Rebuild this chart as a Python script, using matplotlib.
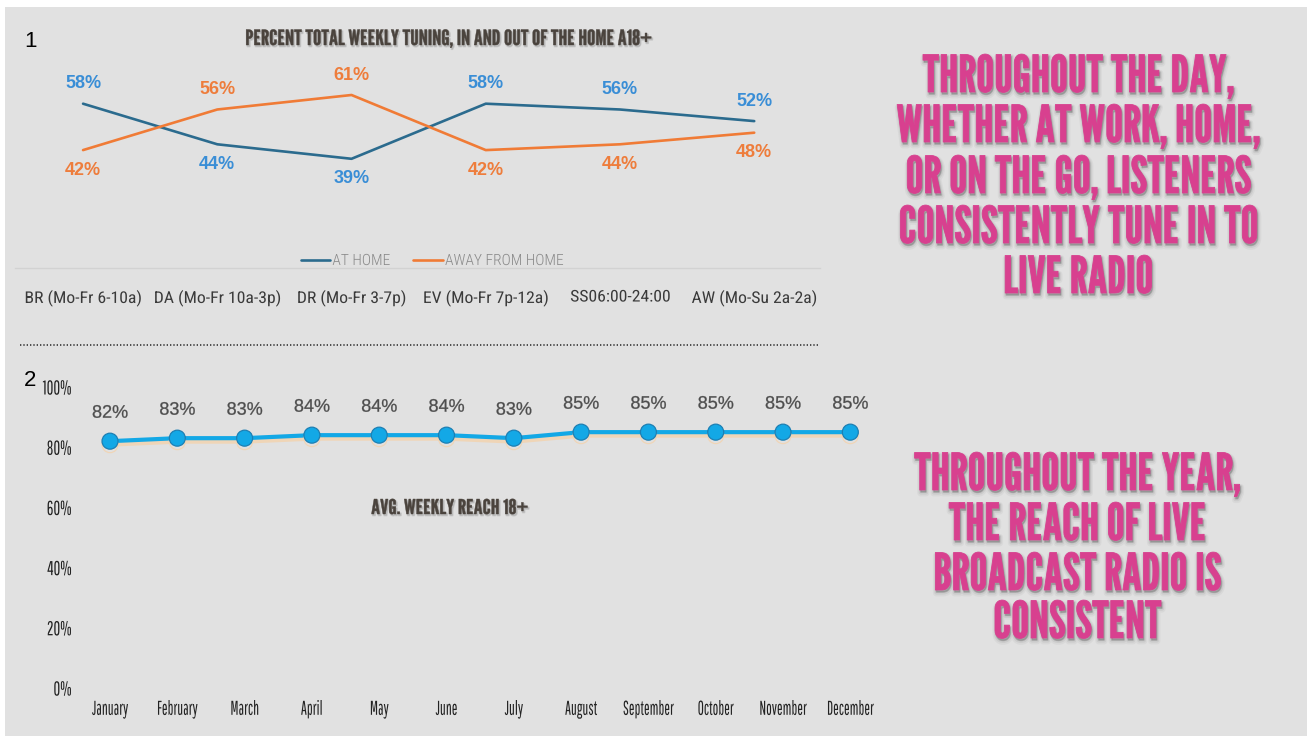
import matplotlib
matplotlib.use("Agg")
import matplotlib.pyplot as plt
import matplotlib.colors as mcolors
from matplotlib import font_manager
from matplotlib.font_manager import FontProperties
from matplotlib.textpath import TextPath
from matplotlib.patheffects import AbstractPathEffect, SimpleLineShadow, Normal
from matplotlib.transforms import Affine2D
from matplotlib.patches import Rectangle
from matplotlib.lines import Line2D

# ---------------- data ----------------
dayparts = ["BR (Mo-Fr 6-10a)", "DA (Mo-Fr 10a-3p)", "DR (Mo-Fr 3-7p)",
            "EV (Mo-Fr 7p-12a)", "SS06:00-24:00", "AW (Mo-Su 2a-2a)"]
at_home = [58, 44, 39, 58, 56, 52]
away_from_home = [42, 56, 61, 42, 44, 48]
series_names = ["AT HOME", "AWAY FROM HOME"]

months = ["January", "February", "March", "April", "May", "June", "July",
          "August", "September", "October", "November", "December"]
weekly_reach = [82, 83, 83, 84, 84, 84, 83, 85, 85, 85, 85, 85]
reach_ticks = [0, 20, 40, 60, 80, 100]

top_title = "PERCENT TOTAL WEEKLY TUNING, IN AND OUT OF THE HOME A18+"
bottom_title = "AVG. WEEKLY REACH 18+"
day_message = ["THROUGHOUT THE DAY,", "WHETHER AT WORK, HOME,",
               "OR ON THE GO, LISTENERS", "CONSISTENTLY TUNE IN TO", "LIVE RADIO"]
year_message = ["THROUGHOUT THE YEAR,", "THE REACH OF LIVE",
                "BROADCAST RADIO IS", "CONSISTENT"]

# ---------------- styles ----------------
BG = "#e1e1e1"
HOME_LINE = "#2b6b8e"
AWAY_LINE = "#f07b36"
HOME_LABEL = "#3a8ed6"
AWAY_LABEL = "#ee7d3c"
REACH_LINE = "#13a8e6"
PINK = "#d8408f"
TITLE = "#4a433d"

AVAILABLE = {f.name for f in font_manager.fontManager.ttflist}


def pick(*families):
    for fam in families:
        if fam in AVAILABLE:
            return fam
    return "Liberation Sans"


DISPLAY = pick("League Gothic", "Oswald", "Bebas Neue", "Anton")
THIN_COND = pick("Pathway Gothic One", "League Gothic", "Oswald", "Antonio")
SEMI_COND = pick("Roboto Condensed", "Barlow Semi Condensed", "Asap Condensed", "Archivo Narrow")
PLAIN = "Liberation Sans"

W, H, DPI = 1307, 738, 100
fig = plt.figure(figsize=(W / DPI, H / DPI), dpi=DPI, facecolor="white")


def fx(px):
    return px / W


def fy(py):
    return 1 - py / H


def size_for_cap(family, weight, cap_px):
    """Font size (pt) whose capital height is cap_px pixels."""
    tp = TextPath((0, 0), "H", size=100, prop=FontProperties(family=family, weight=weight))
    cap_per_100 = tp.get_extents().height
    return cap_px * 100.0 / cap_per_100 * 72.0 / DPI


def natural_width(s, family, weight, size_pt):
    tp = TextPath((0, 0), s, size=size_pt * DPI / 72.0,
                  prop=FontProperties(family=family, weight=weight))
    return tp.get_extents().width


class Condensed(AbstractPathEffect):
    """Draws text glyphs rescaled horizontally, optionally thickened and shadowed."""

    def __init__(self, sx=1.0, anchor="center", stroke=0.0, shadow=()):
        super().__init__()
        self.sx = sx
        self.anchor = anchor
        self.stroke = stroke
        self.shadow = shadow

    def draw_path(self, renderer, gc, tpath, affine, rgbFace=None):
        ext = tpath.get_extents(affine)
        if self.anchor == "left":
            cx = ext.x0
        elif self.anchor == "right":
            cx = ext.x1
        else:
            cx = 0.5 * (ext.x0 + ext.x1)
        aff = affine + Affine2D().translate(-cx, 0).scale(self.sx, 1).translate(cx, 0)
        for dx, dy, lw, color, alpha in self.shadow:
            g = renderer.new_gc()
            g.copy_properties(gc)
            rgba = mcolors.to_rgba(color)
            g.set_foreground(rgba, isRGBA=True)
            g.set_alpha(alpha)
            g.set_linewidth(lw)
            renderer.draw_path(g, tpath, aff + Affine2D().translate(dx, dy), rgba)
            g.restore()
        g = renderer.new_gc()
        g.copy_properties(gc)
        if self.stroke > 0 and rgbFace is not None:
            g.set_foreground(mcolors.to_rgba(rgbFace), isRGBA=True)
            g.set_linewidth(self.stroke)
        renderer.draw_path(g, tpath, aff, rgbFace)
        g.restore()


def fit(sample, width_px, family, weight, size_pt):
    return width_px / natural_width(sample, family, weight, size_pt)


# slide background
fig.add_artist(Rectangle((fx(5), fy(736)), 1 - fx(5), fy(7) - fy(736),
                         transform=fig.transFigure, facecolor=BG,
                         edgecolor="none", zorder=-10))

title_shadow = [(1.2, -1.5, 1.2, "#8a8a8a", 0.30)]

# ---------------- panel 1: tuning by daypart ----------------
ax1 = fig.add_axes([fx(15), fy(268), fx(820) - fx(15), fy(60) - fy(268)])
ax1.set_facecolor("none")
ax1.set_xlim(-0.507, 5.49)
ax1.set_ylim(1.34, 73.07)
for side in ("top", "left", "right"):
    ax1.spines[side].set_visible(False)
ax1.spines["bottom"].set_color("#d2d2d2")
ax1.spines["bottom"].set_linewidth(1.0)
x1 = list(range(len(dayparts)))
ax1.plot(x1, at_home, color=HOME_LINE, lw=1.9, label=series_names[0], solid_capstyle="round")
ax1.plot(x1, away_from_home, color=AWAY_LINE, lw=1.9, label=series_names[1], solid_capstyle="round")
ax1.set_yticks([])

cat_size = size_for_cap(SEMI_COND, "normal", 11.5)
cat_sx = fit(dayparts[0], 115, SEMI_COND, "normal", cat_size)
ax1.set_xticks(x1, dayparts)
ax1.tick_params(axis="x", length=0, pad=15.5, labelsize=cat_size, labelcolor="#3a3a3a")
for lbl in ax1.get_xticklabels():
    lbl.set_fontfamily(SEMI_COND)
    lbl.set_path_effects([Condensed(cat_sx)])

for i, (h, a) in enumerate(zip(at_home, away_from_home)):
    h_off, a_off = (20, -20) if h > a else (-20, 20)
    ax1.annotate(f"{h}%", (i, h), xytext=(0, h_off), textcoords="offset pixels",
                 ha="center", va="center", fontsize=13, fontweight="bold",
                 color=HOME_LABEL, family=PLAIN)
    ax1.annotate(f"{a}%", (i, a), xytext=(0, a_off), textcoords="offset pixels",
                 ha="center", va="center", fontsize=13, fontweight="bold",
                 color=AWAY_LABEL, family=PLAIN)

leg_size = size_for_cap(SEMI_COND, "light", 11)
leg_sx = min(1.0, fit(series_names[1], 138, SEMI_COND, "light", leg_size))
leg = ax1.legend(loc="center", bbox_to_anchor=(fx(432), fy(261)),
                 bbox_transform=fig.transFigure, ncol=2, frameon=False,
                 handlelength=1.9, handletextpad=0.15, columnspacing=1.5, borderpad=0,
                 prop={"family": SEMI_COND, "size": leg_size, "weight": "light"})
for t in leg.get_texts():
    t.set_color("#8a8a8a")
    t.set_path_effects([Condensed(leg_sx, "left")])

t_size = size_for_cap(DISPLAY, "bold", 15.5)
fig.text(fx(449), fy(45), top_title, ha="center", va="baseline", fontsize=t_size,
         fontweight="bold", color=TITLE, family=DISPLAY,
         path_effects=[Condensed(fit(top_title, 405, DISPLAY, "bold", t_size), "center",
                                 0.3, title_shadow)])

# divider
fig.add_artist(Line2D([fx(20), fx(818)], [fy(345), fy(345)], transform=fig.transFigure,
                      color="#333333", lw=1.2, linestyle=(0, (0.8, 1.2))))

# panel numbers
fig.text(fx(24), fy(47), "1", fontsize=16, color="black", family=PLAIN, va="baseline")
fig.text(fx(24), fy(386), "2", fontsize=16, color="black", family=PLAIN, va="baseline")

# ---------------- panel 2: monthly reach ----------------
ax2 = fig.add_axes([fx(80), fy(688), fx(880) - fx(80), fy(387) - fy(688)])
ax2.set_facecolor("none")
ax2.set_xlim(-0.446, 11.441)
ax2.set_ylim(0, 100)
for side in ax2.spines:
    ax2.spines[side].set_visible(False)
x2 = list(range(len(months)))
ax2.plot(x2, weekly_reach, color=REACH_LINE, lw=3.0, marker="o", markersize=11.5,
         markerfacecolor=REACH_LINE, markeredgecolor="#1d7fb3", markeredgewidth=0.9,
         path_effects=[SimpleLineShadow(offset=(0, -2.5), shadow_color="#f1d4b3", alpha=0.9),
                       Normal()], zorder=3)
for i, v in enumerate(weekly_reach):
    ax2.annotate(f"{v}%", (i, v), xytext=(0, 28), textcoords="offset pixels",
                 ha="center", va="center", fontsize=13, color="#4d4d4d", family=PLAIN,
                 path_effects=[Condensed(1.0, "center", 0.2)])

tick_size = size_for_cap(THIN_COND, "light", 14)
month_sx = fit("January", 36, THIN_COND, "light", tick_size)
pct_sx = fit("100%", 28, THIN_COND, "light", tick_size)
ax2.set_xticks(x2, months)
ax2.set_yticks(reach_ticks, [f"{t}%" for t in reach_ticks])
ax2.tick_params(axis="x", length=0, pad=8.5, labelsize=tick_size, labelcolor="#222222")
ax2.tick_params(axis="y", length=0, pad=6, labelsize=tick_size, labelcolor="#222222")
for lbl in ax2.get_xticklabels():
    lbl.set_fontfamily(THIN_COND)
    lbl.set_fontweight("light")
    lbl.set_path_effects([Condensed(month_sx, "center")])
for lbl in ax2.get_yticklabels():
    lbl.set_fontfamily(THIN_COND)
    lbl.set_fontweight("light")
    lbl.set_path_effects([Condensed(pct_sx, "right")])

b_size = size_for_cap(DISPLAY, "bold", 15)
fig.text(fx(450), fy(514), bottom_title, ha="center", va="baseline", fontsize=b_size,
         fontweight="bold", color=TITLE, family=DISPLAY,
         path_effects=[Condensed(fit(bottom_title, 156, DISPLAY, "bold", b_size), "center",
                                 0.3, title_shadow)])

# ---------------- right-hand messages ----------------
pink_shadow = [(1.0, -3.0, 5.0, "#7a7a7a", 0.08),
               (1.0, -2.5, 3.0, "#7a7a7a", 0.13),
               (1.0, -2.0, 1.2, "#6a6a6a", 0.28)]
msg_size = size_for_cap(DISPLAY, "bold", 37.5)


def message_block(lines, baselines, cx, widest_px):
    natural = max(natural_width(s, DISPLAY, "bold", msg_size) for s in lines)
    sx = widest_px / natural
    for s, b in zip(lines, baselines):
        fig.text(fx(cx), fy(b), s, ha="center", va="baseline", fontsize=msg_size,
                 fontweight="bold", color=PINK, family=DISPLAY,
                 path_effects=[Condensed(sx, "center", 0.6, pink_shadow)])


message_block(day_message, [92, 142, 193, 243, 293], 1078, 362)
message_block(year_message, [490, 540, 590, 638], 1077, 325)

fig.savefig("out.png", dpi=DPI, facecolor=fig.get_facecolor())
